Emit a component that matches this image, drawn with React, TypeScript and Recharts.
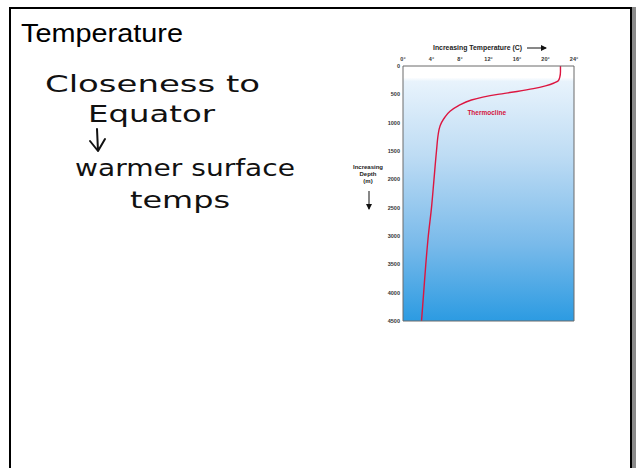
import { LineChart, Line, XAxis, YAxis, ReferenceArea, ReferenceDot } from "recharts";

// depth profile (metres / degrees C)
const depths = [0, 100, 200, 260, 300, 350, 400, 450, 500, 550, 600, 700, 800, 900, 1000, 1100, 1200, 1500, 2000, 2500, 3000, 3500, 4000, 4500];
const temps = [22.1, 22.1, 22.0, 21.8, 21.2, 20.0, 18.3, 16.0, 13.3, 11.2, 9.6, 7.8, 6.6, 5.9, 5.4, 5.1, 4.95, 4.7, 4.35, 4.0, 3.55, 3.2, 2.9, 2.6];

const tempTicks = [0, 4, 8, 12, 16, 20, 24];
const innerTempTicks = [4, 8, 12, 16, 20];
const depthTicks = [0, 500, 1000, 1500, 2000, 2500, 3000, 3500, 4000, 4500];
const innerDepthTicks = [500, 1000, 1500, 2000, 2500, 3000, 3500, 4000];

const notes = ["Closeness to", "Equator", "warmer surface", "temps"];

const data = depths.map((d, i) => ({ depth: d, temp: temps[i] }));

const axisColor = "#6b6b6b";
const tickFont = { fontSize: 5.5, fill: "#333", fontWeight: 700, fontFamily: "Liberation Sans, Arial, sans-serif" };
const hand = { fontFamily: "DejaVu Sans, sans-serif", fontSize: 23, fill: "#111" };

function ProfileChart() {
  return (
    <LineChart
      width={250}
      height={295}
      data={data}
      layout="vertical"
      margin={{ top: 11, right: 16, bottom: 9, left: 33 }}
    >
      <defs>
        <linearGradient id="seaGrad" x1="0" y1="0" x2="0" y2="1">
          <stop offset="0" stopColor="#ffffff" />
          <stop offset="0.045" stopColor="#ffffff" />
          <stop offset="0.06" stopColor="#e8f3fc" />
          <stop offset="0.35" stopColor="#bedcf4" />
          <stop offset="0.7" stopColor="#79baea" />
          <stop offset="1" stopColor="#2c9be2" />
        </linearGradient>
      </defs>
      <XAxis
        type="number"
        dataKey="temp"
        orientation="top"
        domain={[0, 24]}
        ticks={tempTicks}
        interval={0}
        height={20}
        tickSize={0}
        tickLine={false}
        tickMargin={5}
        tickFormatter={(v) => `${v}°`}
        tick={tickFont}
        axisLine={{ stroke: axisColor }}
      />
      <XAxis
        xAxisId="topMarks"
        type="number"
        orientation="top"
        mirror
        domain={[0, 24]}
        ticks={innerTempTicks}
        interval={0}
        tick={false}
        tickSize={4}
        tickLine={{ stroke: axisColor }}
        axisLine={false}
      />
      <XAxis
        xAxisId="bottomMarks"
        type="number"
        orientation="bottom"
        mirror
        domain={[0, 24]}
        ticks={innerTempTicks}
        interval={0}
        tick={false}
        tickSize={4}
        tickLine={{ stroke: axisColor }}
        axisLine={{ stroke: axisColor }}
      />
      <YAxis
        type="number"
        dataKey="depth"
        domain={[0, 4500]}
        ticks={depthTicks}
        interval={0}
        width={30}
        tickSize={0}
        tickLine={false}
        tickMargin={3}
        tick={tickFont}
        axisLine={{ stroke: axisColor }}
      />
      <YAxis
        yAxisId="rightMarks"
        type="number"
        orientation="right"
        mirror
        domain={[0, 4500]}
        ticks={innerDepthTicks}
        interval={0}
        tick={false}
        tickSize={4}
        tickLine={{ stroke: axisColor }}
        axisLine={{ stroke: axisColor }}
      />
      <ReferenceArea x1={0} x2={24} y1={0} y2={4500} fill="url(#seaGrad)" fillOpacity={1} stroke="none" />
      <ReferenceDot
        x={11.75}
        y={830}
        r={0}
        stroke="none"
        label={{ value: "Thermocline", position: "center", fill: "#d4143c", fontSize: 6.5, fontWeight: 700, fontFamily: "Liberation Sans, Arial, sans-serif" }}
      />
      <Line
        type="monotone"
        dataKey="temp"
        stroke="#dc1640"
        strokeWidth={1.4}
        dot={false}
        isAnimationActive={false}
      />
    </LineChart>
  );
}

export default function App() {
  return (
    <div style={{ position: "absolute", left: 0, top: 0, width: 639, height: 468, overflow: "hidden", background: "#fff" }}>
      <div
        style={{
          position: "absolute",
          left: 9,
          top: 7,
          width: 619,
          height: 520,
          border: "2px solid #000",
          boxShadow: "4px 0 0 #8a8a8a",
          background: "#fff",
        }}
      />
      <div style={{ position: "absolute", left: 340, top: 35 }}>
        <ProfileChart />
      </div>
      <svg width={639} height={468} style={{ position: "absolute", left: 0, top: 0, pointerEvents: "none" }}>
        <defs>
          <marker id="arrowHead" markerWidth="6" markerHeight="6" refX="5" refY="3" orient="auto" markerUnits="userSpaceOnUse">
            <path d="M0,0 L6,3 L0,6 Z" fill="#111" />
          </marker>
        </defs>
        <text
          x={21}
          y={42}
          fontFamily="Liberation Sans, Arial, sans-serif"
          fontSize={25}
          fill="#000"
          textLength={162}
          lengthAdjust="spacingAndGlyphs"
        >
          Temperature
        </text>

        <text x={45} y={92} {...hand} textLength={215} lengthAdjust="spacingAndGlyphs">{notes[0]}</text>
        <text x={88} y={122} {...hand} textLength={127} lengthAdjust="spacingAndGlyphs">{notes[1]}</text>
        {/* hand-drawn down arrow */}
        <path
          d="M97,129 L98,151 M90,141 L98,151 L105,139"
          fill="none"
          stroke="#111"
          strokeWidth={2}
          strokeLinecap="round"
          strokeLinejoin="round"
        />
        <text x={75} y={176} {...hand} textLength={220} lengthAdjust="spacingAndGlyphs">{notes[2]}</text>
        <text x={130} y={208} {...hand} textLength={100} lengthAdjust="spacingAndGlyphs">{notes[3]}</text>

        <text
          x={433}
          y={50}
          fontFamily="Liberation Sans, Arial, sans-serif"
          fontSize={6.5}
          fontWeight={700}
          fill="#222"
          textLength={89}
          lengthAdjust="spacingAndGlyphs"
        >
          Increasing Temperature (C)
        </text>
        <line x1={527} y1={48} x2={546} y2={48} stroke="#111" strokeWidth={1} markerEnd="url(#arrowHead)" />

        <g fontFamily="Liberation Sans, Arial, sans-serif" fontSize={6} fontWeight={700} fill="#222" textAnchor="middle">
          <text x={368} y={169}>Increasing</text>
          <text x={368} y={176}>Depth</text>
          <text x={368} y={183}>(m)</text>
        </g>
        <line x1={369} y1={191} x2={369} y2={209} stroke="#111" strokeWidth={1} markerEnd="url(#arrowHead)" />
      </svg>
    </div>
  );
}
